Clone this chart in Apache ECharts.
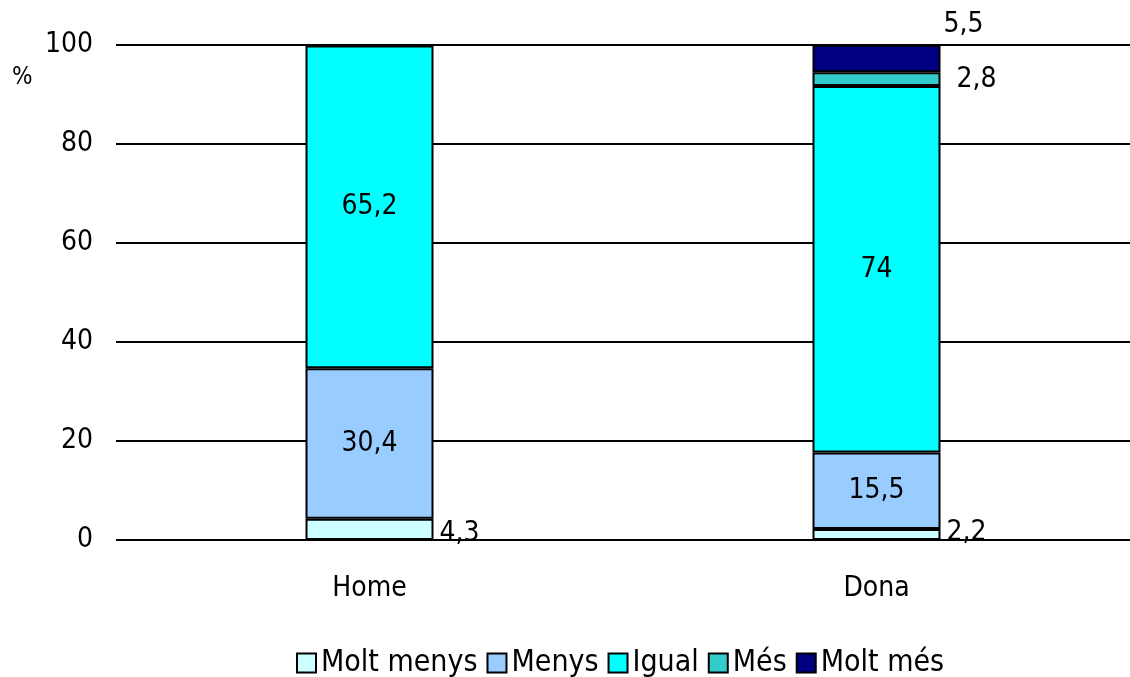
<!DOCTYPE html>
<html>
<head>
<meta charset="utf-8">
<script src="https://cdn.jsdelivr.net/npm/echarts@6/dist/echarts.min.js"></script>
<style>
  html, body { margin: 0; padding: 0; background: #ffffff; }
  #chart { width: 1130px; height: 677px; }
</style>
</head>
<body>
<div id="chart"></div>
<script>
// Categories and stacked shares (%)
const categories = ['Home', 'Dona'];
const seriesNames = ['Molt menys', 'Menys', 'Igual', 'Més', 'Molt més'];
const moltMenys = [4.3, 2.2];
const menys = [30.4, 15.5];
const igual = [65.2, 74];
const mes = [null, 2.8];
const moltMes = [null, 5.5];
const yTicks = [0, 20, 40, 60, 80, 100];

const seriesValues = [moltMenys, menys, igual, mes, moltMes];
const colors = ['#CCFFFF', '#99CCFF', '#00FFFF', '#33CCCC', '#000080'];

const FONT = "'DejaVu Sans Condensed', 'Liberation Sans', sans-serif";
const FS = 28;

// Thin segments get their value label outside the bar
const outsideLabel = {
  'Molt menys': [
    { position: 'right', distance: 6, offset: [0, 4] },
    { position: 'right', distance: 6, offset: [0, -2] }
  ],
  'Més': [null, { position: 'right', distance: 16, offset: [0, 1] }],
  'Molt més': [null, { position: 'top', distance: 5, offset: [87, -1] }]
};

const fmt = v => String(v).replace('.', ',');

const series = seriesNames.map((name, si) => ({
  name: name,
  type: 'bar',
  stack: 'total',
  barWidth: 128,
  itemStyle: { color: colors[si], borderColor: '#000000', borderWidth: 2 },
  label: {
    show: true,
    position: 'inside',
    color: '#000000',
    fontFamily: FONT,
    fontSize: FS,
    formatter: p => fmt(p.value)
  },
  data: seriesValues[si].map((v, ci) => {
    if (v === null) return '-';
    const extra = outsideLabel[name] && outsideLabel[name][ci];
    return extra ? { value: v, label: extra } : v;
  })
}));

const chart = echarts.init(document.getElementById('chart'), null, { renderer: 'canvas' });
chart.setOption({
  animation: false,
  backgroundColor: '#ffffff',
  grid: { left: 116, top: 45, width: 1017, height: 495, containLabel: false },
  xAxis: {
    type: 'category',
    data: categories,
    axisLine: { show: false },
    axisTick: { show: false },
    axisLabel: { color: '#000000', fontFamily: FONT, fontSize: FS, margin: 35 }
  },
  yAxis: {
    type: 'value',
    min: yTicks[0],
    max: yTicks[yTicks.length - 1],
    interval: yTicks[1] - yTicks[0],
    axisLine: { show: false },
    axisTick: { show: false },
    axisLabel: { color: '#000000', fontFamily: FONT, fontSize: FS, margin: 23 },
    splitLine: { lineStyle: { color: '#000000', width: 2 } }
  },
  legend: {
    data: seriesNames,
    left: 291,
    top: 643,
    icon: 'rect',
    itemWidth: 19,
    itemHeight: 19,
    itemGap: 9,
    textStyle: { color: '#000000', fontFamily: FONT, fontSize: 30 }
  },
  graphic: [{
    type: 'text',
    left: 12,
    top: 66,
    style: { text: '%', fill: '#000000', font: '24px ' + FONT }
  }],
  series: series
});
</script>
</body>
</html>
